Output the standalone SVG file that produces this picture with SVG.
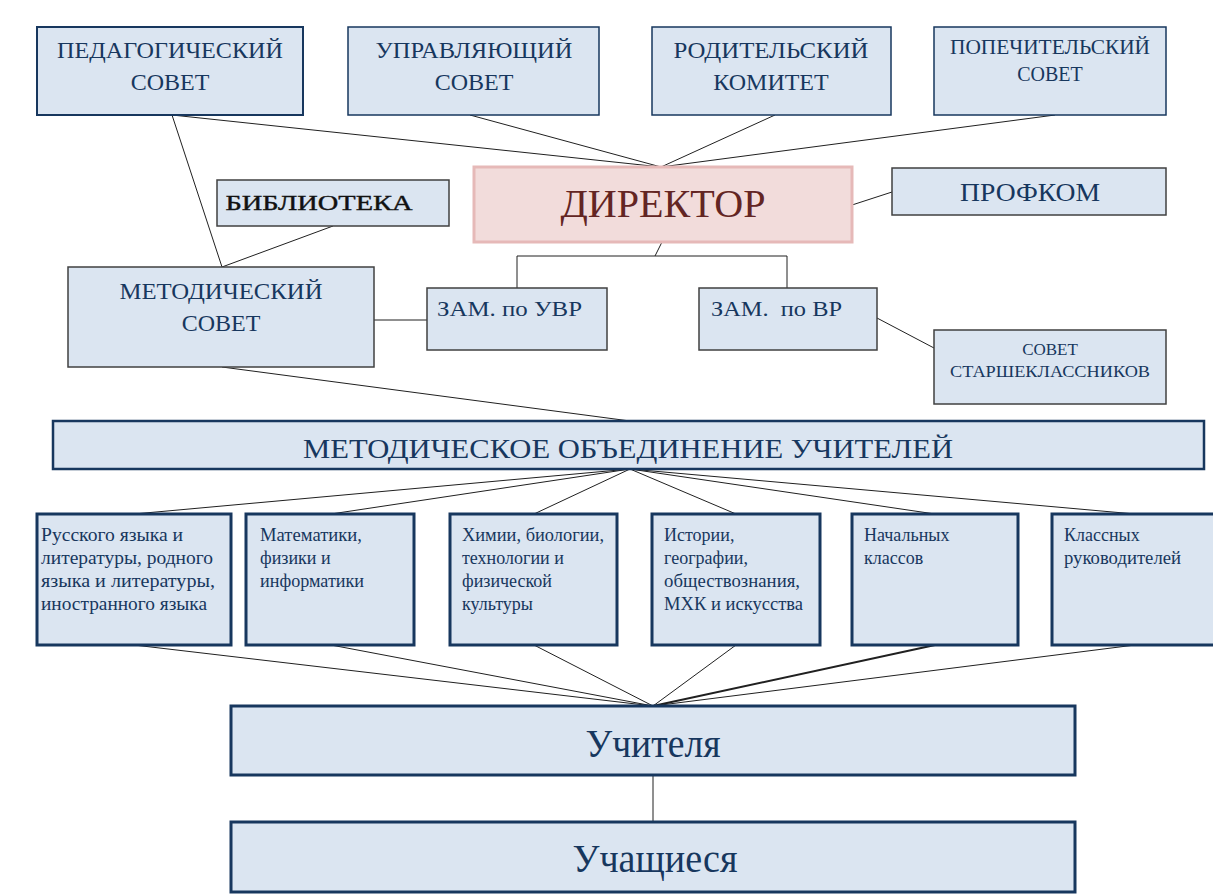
<svg xmlns="http://www.w3.org/2000/svg" width="1213" height="895" viewBox="0 0 1213 895">
<style>
.b{fill:#dbe5f1;stroke:#17375e;stroke-width:1.5}
.bt{fill:#dbe5f1;stroke:#17375e;stroke-width:3}
.bg{fill:#dbe5f1;stroke:#404040;stroke-width:1.5}
.t{font-family:"Liberation Serif",serif;fill:#17375e}
.c{text-anchor:middle}
.ln{stroke:#202020;stroke-width:1;fill:none}
</style>
<rect width="1213" height="895" fill="#fff"/>
<g id="connectors">
<line class="ln" x1="172" y1="115" x2="661" y2="167"/>
<line class="ln" x1="470" y1="115" x2="661" y2="167"/>
<line class="ln" x1="775" y1="115" x2="661" y2="167"/>
<line class="ln" x1="1055" y1="115" x2="661" y2="167"/>
<line class="ln" x1="172" y1="115" x2="222" y2="267"/>
<line class="ln" x1="333" y1="226" x2="222" y2="267"/>
<line class="ln" x1="852" y1="205" x2="892" y2="192"/>
<polyline class="ln" points="662,242 655,256"/>
<polyline class="ln" points="517,288 517,256 787,256 787,288"/>
<line class="ln" x1="374" y1="320" x2="427" y2="320"/>
<line class="ln" x1="877" y1="318" x2="934" y2="348"/>
<line class="ln" x1="222" y1="367" x2="630" y2="421"/>
<line class="ln" x1="630" y1="469" x2="134" y2="514"/>
<line class="ln" x1="630" y1="469" x2="331" y2="514"/>
<line class="ln" x1="630" y1="469" x2="534" y2="514"/>
<line class="ln" x1="630" y1="469" x2="736" y2="514"/>
<line class="ln" x1="630" y1="469" x2="935" y2="514"/>
<line class="ln" x1="630" y1="469" x2="1135" y2="514"/>
<line class="ln" x1="134" y1="645" x2="653" y2="706"/>
<line class="ln" x1="331" y1="645" x2="653" y2="706"/>
<line class="ln" x1="534" y1="645" x2="653" y2="706"/>
<line class="ln" x1="736" y1="645" x2="653" y2="706"/>
<line class="ln" x1="935" y1="645" x2="653" y2="706" style="stroke-width:2"/>
<line class="ln" x1="1135" y1="645" x2="653" y2="706"/>
<line class="ln" x1="653" y1="775" x2="653" y2="822"/>
</g>
<g id="pedsovet"><rect class="bt" x="37" y="27" width="266" height="88" style="stroke-width:2"/>
<text class="t c" x="170" y="58" font-size="24" textLength="226" lengthAdjust="spacingAndGlyphs">ПЕДАГОГИЧЕСКИЙ</text>
<text class="t c" x="170" y="90" font-size="24">СОВЕТ</text></g>
<g id="upravsovet"><rect class="b" x="348" y="27" width="251" height="88"/>
<text class="t c" x="474" y="58" font-size="24" textLength="197" lengthAdjust="spacingAndGlyphs">УПРАВЛЯЮЩИЙ</text>
<text class="t c" x="474" y="90" font-size="24">СОВЕТ</text></g>
<g id="roditkom"><rect class="b" x="652" y="27" width="239" height="88"/>
<text class="t c" x="771" y="58" font-size="24" textLength="195" lengthAdjust="spacingAndGlyphs">РОДИТЕЛЬСКИЙ</text>
<text class="t c" x="771" y="90" font-size="24">КОМИТЕТ</text></g>
<g id="popech"><rect class="b" x="934" y="27" width="232" height="88"/>
<text class="t c" x="1050" y="54" font-size="20" textLength="200" lengthAdjust="spacingAndGlyphs">ПОПЕЧИТЕЛЬСКИЙ</text>
<text class="t c" x="1050" y="81" font-size="20">СОВЕТ</text></g>
<g id="director"><rect x="474" y="167" width="378" height="75" fill="#f2dcdb" stroke="#e6b9b8" stroke-width="3"/>
<text class="c" x="663" y="217" font-size="40" font-family="Liberation Serif,serif" fill="#632523" textLength="205" lengthAdjust="spacingAndGlyphs">ДИРЕКТОР</text></g>
<g id="profkom"><rect class="bg" x="892" y="168" width="274" height="47"/>
<text class="t c" x="1030" y="201" font-size="25" textLength="140" lengthAdjust="spacingAndGlyphs">ПРОФКОМ</text></g>
<g id="biblioteka"><rect class="bg" x="217" y="180" width="232" height="46"/>
<text class="c" x="319" y="210" font-size="22" font-family="Liberation Serif,serif" fill="#111" stroke="#111" stroke-width="0.4" textLength="187" lengthAdjust="spacingAndGlyphs">БИБЛИОТЕКА</text></g>
<g id="metsovet"><rect class="bg" x="68" y="267" width="306" height="100"/>
<text class="t c" x="221" y="299" font-size="24" textLength="203" lengthAdjust="spacingAndGlyphs">МЕТОДИЧЕСКИЙ</text>
<text class="t c" x="221" y="331" font-size="24">СОВЕТ</text></g>
<g id="zamuvr"><rect class="bg" x="427" y="288" width="180" height="62"/>
<text class="t" x="437" y="316" font-size="22" textLength="145" lengthAdjust="spacingAndGlyphs">ЗАМ. по УВР</text></g>
<g id="zamvr"><rect class="bg" x="699" y="288" width="178" height="62"/>
<text class="t" x="711" y="316" font-size="22" xml:space="preserve" textLength="131" lengthAdjust="spacingAndGlyphs">ЗАМ.  по ВР</text></g>
<g id="starsh"><rect class="bg" x="934" y="330" width="232" height="74"/>
<text class="t c" x="1050" y="355" font-size="17">СОВЕТ</text>
<text class="t c" x="1050" y="377" font-size="17" textLength="200" lengthAdjust="spacingAndGlyphs">СТАРШЕКЛАССНИКОВ</text></g>
<g id="mo"><rect class="bt" x="53" y="421" width="1151" height="48" style="stroke-width:2.5"/>
<text class="t c" x="628" y="458" font-size="28" textLength="650" lengthAdjust="spacingAndGlyphs">МЕТОДИЧЕСКОЕ ОБЪЕДИНЕНИЕ УЧИТЕЛЕЙ</text></g>
<g id="s1"><rect class="bt" x="37" y="514" width="194" height="131"/>
<text class="t" font-size="18"><tspan x="41" y="541" textLength="142" lengthAdjust="spacingAndGlyphs">Русского языка и</tspan><tspan x="41" y="564" textLength="172" lengthAdjust="spacingAndGlyphs">литературы, родного</tspan><tspan x="41" y="587" textLength="174" lengthAdjust="spacingAndGlyphs">языка и литературы,</tspan><tspan x="41" y="610" textLength="166" lengthAdjust="spacingAndGlyphs">иностранного языка</tspan></text></g>
<g id="s2"><rect class="bt" x="246" y="514" width="168" height="131"/>
<text class="t" font-size="18"><tspan x="260" y="541" textLength="102" lengthAdjust="spacingAndGlyphs">Математики,</tspan><tspan x="260" y="564">физики и</tspan><tspan x="260" y="587" textLength="104" lengthAdjust="spacingAndGlyphs">информатики</tspan></text></g>
<g id="s3"><rect class="bt" x="450" y="514" width="167" height="131"/>
<text class="t" font-size="18"><tspan x="462" y="541" textLength="142" lengthAdjust="spacingAndGlyphs">Химии, биологии,</tspan><tspan x="462" y="564">технологии и</tspan><tspan x="462" y="587">физической</tspan><tspan x="462" y="610">культуры</tspan></text></g>
<g id="s4"><rect class="bt" x="652" y="514" width="168" height="131"/>
<text class="t" font-size="18"><tspan x="664" y="541">Истории,</tspan><tspan x="664" y="564">географии,</tspan><tspan x="664" y="587" textLength="136" lengthAdjust="spacingAndGlyphs">обществознания,</tspan><tspan x="664" y="610" textLength="139" lengthAdjust="spacingAndGlyphs">МХК и искусства</tspan></text></g>
<g id="s5"><rect class="bt" x="852" y="514" width="166" height="131"/>
<text class="t" font-size="18"><tspan x="864" y="541">Начальных</tspan><tspan x="864" y="564">классов</tspan></text></g>
<g id="s6"><rect class="bt" x="1052" y="514" width="170" height="131"/>
<text class="t" font-size="18"><tspan x="1064" y="541">Классных</tspan><tspan x="1064" y="564" textLength="117" lengthAdjust="spacingAndGlyphs">руководителей</tspan></text></g>
<g id="uchitelya"><rect class="bt" x="231" y="706" width="844" height="69"/>
<text class="t c" x="653" y="757" font-size="40" textLength="135" lengthAdjust="spacingAndGlyphs">Учителя</text></g>
<g id="uchashchiesya"><rect class="bt" x="231" y="822" width="844" height="70"/>
<text class="t c" x="655" y="872" font-size="40" textLength="165" lengthAdjust="spacingAndGlyphs">Учащиеся</text></g>
</svg>
